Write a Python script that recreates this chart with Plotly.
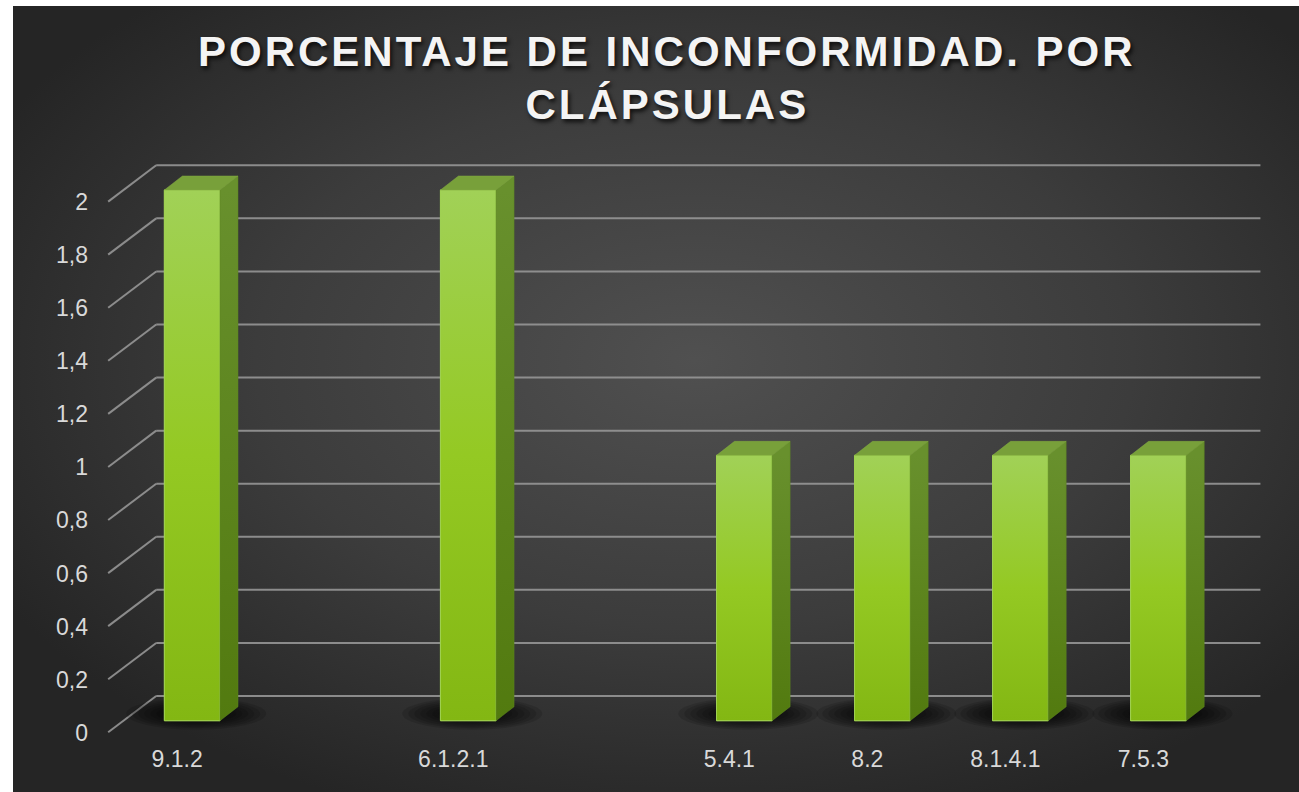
import base64
import plotly.graph_objects as go

# ---------------- data ----------------
categories = ["9.1.2", "", "6.1.2.1", "", "5.4.1", "8.2", "8.1.4.1", "7.5.3"]
values = [2, None, 2, None, 1, 1, 1, 1]
y_ticks = [0, 0.2, 0.4, 0.6, 0.8, 1, 1.2, 1.4, 1.6, 1.8, 2]
title_lines = ["PORCENTAJE DE INCONFORMIDAD. POR", "CLÁPSULAS"]

# ---------------- geometry (pixels) ----------------
W, H = 1299, 792
ML, MR, MT, MB = 100, 9, 130, 52
PX_PER_CAT = 138.03      # category spacing
X0_PX = 192.2            # centre of the first category (bar front plane)
Y0_PX = 720.7            # zero of the bar front plane
PX_PER_UNIT = 265.35     # pixels per value unit
BAR_W = 0.403

x_range = [(ML - X0_PX) / PX_PER_CAT, (W - MR - X0_PX) / PX_PER_CAT]
y_range = [(Y0_PX - (H - MB)) / PX_PER_UNIT, (Y0_PX - MT) / PX_PER_UNIT]


def dx(px):
    return px / PX_PER_CAT


def dy(px):
    return px / PX_PER_UNIT


BACK = (dx(33), dy(24.7))     # back wall offset from bar front plane
FRONT = (dx(-15), dy(-11.6))  # front edge offset
DEPTH = (dx(18), dy(14))      # bar depth offset

idx = list(range(len(categories)))
FONT = "Liberation Sans, Arial, sans-serif"

fig = go.Figure()

# ---------------- shapes: gridlines and shadows ----------------
shapes = []
x_left, x_right = idx[0] - 0.5, idx[-1] + 0.5
for t in y_ticks:
    shapes.append(dict(type="line", xref="x", yref="y", layer="below",
                       x0=x_left + BACK[0], x1=x_right + BACK[0],
                       y0=t + BACK[1], y1=t + BACK[1],
                       line=dict(color="rgba(150,150,150,0.9)", width=2)))
    shapes.append(dict(type="line", xref="x", yref="y", layer="below",
                       x0=x_left + FRONT[0], x1=x_left + BACK[0],
                       y0=t + FRONT[1], y1=t + BACK[1],
                       line=dict(color="rgba(150,150,150,0.9)", width=2)))

for i, v in zip(idx, values):
    if v is None:
        continue
    cx, cy = i + dx(4), dy(7)
    for k in range(7):
        hw = dx(70 - 6 * k)
        hh = dy(16 - 1.5 * k)
        shapes.append(dict(type="circle", xref="x", yref="y", layer="below",
                           x0=cx - hw, x1=cx + hw, y0=cy - hh, y1=cy + hh,
                           fillcolor="rgba(0,0,0,0.13)", line=dict(width=0)))

# ---------------- bars ----------------
fig.add_trace(go.Bar(
    x=idx, y=values, width=BAR_W,
    marker=dict(color="#92c61f", line=dict(color="#a3d45a", width=1)),
    hovertemplate="%{customdata}: %{y}<extra></extra>",
    customdata=categories, showlegend=False,
))

hw = BAR_W / 2
for i, v in zip(idx, values):
    if v is None:
        continue
    # front face sheen
    fig.add_trace(go.Scatter(
        x=[i - hw, i + hw, i + hw, i - hw, i - hw],
        y=[0, 0, v, v, 0], mode="lines", fill="toself",
        line=dict(color="#9fd052", width=1),
        fillgradient=dict(type="vertical", start=0, stop=v,
                          colorscale=[[0, "#83b713"], [0.5, "#94c923"], [1, "#a1d157"]]),
        hoverinfo="skip", showlegend=False))
    # side face
    fig.add_trace(go.Scatter(
        x=[i + hw, i + hw + DEPTH[0], i + hw + DEPTH[0], i + hw, i + hw],
        y=[0, DEPTH[1], v + DEPTH[1], v, 0], mode="lines", fill="toself",
        line=dict(color="#5e8620", width=0.5),
        fillgradient=dict(type="vertical", start=0, stop=v,
                          colorscale=[[0, "#527a0f"], [1, "#68902d"]]),
        hoverinfo="skip", showlegend=False))
    # top face
    fig.add_trace(go.Scatter(
        x=[i - hw, i + hw, i + hw + DEPTH[0], i - hw + DEPTH[0], i - hw],
        y=[v, v, v + DEPTH[1], v + DEPTH[1], v], mode="lines", fill="toself",
        line=dict(color="#82aa42", width=0.5), fillcolor="#78a03a",
        hoverinfo="skip", showlegend=False))

# ---------------- background (radial gradient) ----------------
bw, bh = W - 13, H - 6
svg = (f'<svg xmlns="http://www.w3.org/2000/svg" width="{bw}" height="{bh}" '
       f'viewBox="0 0 {bw} {bh}" preserveAspectRatio="none"><defs>'
       '<radialGradient id="g" cx="0.53" cy="0.45" r="0.62">'
       '<stop offset="0" stop-color="#505050"/>'
       '<stop offset="0.55" stop-color="#3c3c3c"/>'
       '<stop offset="1" stop-color="#252525"/>'
       '</radialGradient></defs>'
       '<rect width="100%" height="100%" fill="url(#g)"/></svg>')
src = "data:image/svg+xml;base64," + base64.b64encode(svg.encode()).decode()
pw, ph = W - ML - MR, H - MT - MB


def px_to_paper_x(px):
    return (px - ML) / pw


def py_to_paper_y(py):
    return (H - MB - py) / ph


fig.add_layout_image(dict(source=src, xref="paper", yref="paper",
                          x=px_to_paper_x(13), y=py_to_paper_y(6),
                          sizex=bw / pw, sizey=bh / ph,
                          xanchor="left", yanchor="top", sizing="stretch",
                          layer="below"))

# ---------------- title ----------------
annotations = []
for line, py in zip(title_lines, [51, 104]):
    annotations.append(dict(
        text=line, xref="paper", yref="paper",
        x=px_to_paper_x(667), y=py_to_paper_y(py),
        xanchor="center", yanchor="middle", showarrow=False,
        font=dict(family=FONT, size=42, color="#f4f4f4", weight="bold",
                  shadow="2px 3px 4px rgba(0,0,0,0.75)")))

fig.update_layout(
    width=W, height=H,
    margin=dict(l=ML, r=MR, t=MT, b=MB),
    paper_bgcolor="white", plot_bgcolor="rgba(0,0,0,0)",
    separators=", ",
    shapes=shapes, annotations=annotations,
    showlegend=False, barmode="overlay",
    xaxis=dict(range=x_range, tickmode="array", tickvals=idx, ticktext=categories,
               showgrid=False, zeroline=False, showline=False, ticks="",
               tickfont=dict(family=FONT, size=23, color="#d9d9d9"),
               ticklabelshift=-15, ticklabelstandoff=3, fixedrange=True),
    yaxis=dict(range=y_range, tickmode="array", tickvals=y_ticks,
               showgrid=False, zeroline=False, showline=False, ticks="",
               tickfont=dict(family=FONT, size=23, color="#d9d9d9"),
               ticklabelshift=12, ticklabelstandoff=11, fixedrange=True),
)

post = ("document.body.style.margin='0';"
        "document.querySelectorAll('.annotation-text').forEach(function(e){"
        "e.style.letterSpacing='3px';});")
fig.write_html("out.html", post_script=post, config={"displayModeBar": False})
